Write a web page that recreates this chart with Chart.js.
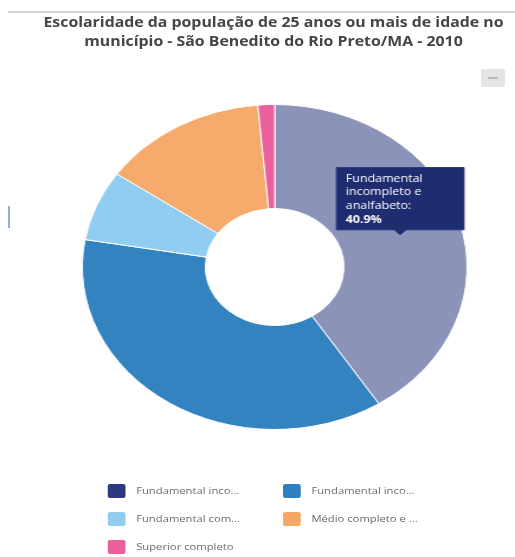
<!DOCTYPE html>
<html>
<head>
<meta charset="utf-8">
<script src="https://cdn.jsdelivr.net/npm/chart.js@4/dist/chart.umd.min.js"></script>
<style>
  html, body { margin: 0; padding: 0; background: #fff; }
  body { width: 515px; height: 557px; position: relative; overflow: hidden; font-family: "Open Sans", sans-serif; }
  .topline { position: absolute; left: 8px; right: 0; top: 11px; height: 2px; background: #d6d6d6; }
  .menu { position: absolute; left: 481px; top: 69px; width: 24px; height: 18px; background: #e4e4e4; border-radius: 2px; }
  .menu::after { content: ""; position: absolute; left: 7px; right: 7px; top: 8px; height: 2px; background: #b8b8b8; }
  .sidemark { position: absolute; left: 8px; top: 206px; width: 2px; height: 22px; background: #8fb0dc; }
  /* everything is laid out at 435px and stretched to the page width */
  .stage { position: absolute; left: 0; top: 0; width: 435px; height: 557px; transform: scaleX(1.184); transform-origin: 0 0; }
  .title { position: absolute; left: 27px; right: 0; top: 13px; text-align: center; font-weight: 700; font-size: 13.4px; line-height: 19px; color: #454545; }
  #chart { position: absolute; left: 0; top: 60px; }
  .legend { position: absolute; left: 91px; top: 483px; width: 320px; }
  .legend .item { position: absolute; display: flex; align-items: center; font-size: 9.5px; line-height: 15px; color: #6b6b6b; white-space: nowrap; }
  .legend .box { width: 15px; height: 14px; border-radius: 2px; margin-right: 9px; }
</style>
</head>
<body>
<div class="topline"></div>
<div class="menu"></div>
<div class="sidemark"></div>
<div class="stage">
  <div class="title">Escolaridade da população de 25 anos ou mais de idade no<br>município - São Benedito do Rio Preto/MA - 2010</div>
  <canvas id="chart" width="435" height="410"></canvas>
  <div class="legend" id="legend"></div>
</div>
<script>
const labels = [
  'Fundamental incompleto e analfabeto',
  'Fundamental incompleto e alfabetizado',
  'Fundamental completo e médio incompleto',
  'Médio completo e superior incompleto',
  'Superior completo'
];
const percents = [40.9, 36.8, 7.0, 13.9, 1.4];
const sliceColors = ['#8b93b8', '#3483c1', '#91cdf1', '#f6aa6b', '#eb5f9c'];
const legendColors = ['#2c3a7d', '#2f7fbf', '#91cdf1', '#f5a765', '#eb5f9c'];

// break a label into short lines for the tooltip
function wrapText(text, maxChars) {
  const words = text.split(' ');
  const lines = [];
  let line = '';
  words.forEach(w => {
    if (line && (line + ' ' + w).length > maxChars) {
      lines.push(line);
      line = w;
    } else {
      line = line ? line + ' ' + w : w;
    }
  });
  if (line) lines.push(line);
  return lines;
}

const ctx = document.getElementById('chart').getContext('2d');
const chart = new Chart(ctx, {
  type: 'doughnut',
  data: {
    labels: labels,
    datasets: [{
      data: percents,
      backgroundColor: sliceColors,
      borderColor: '#ffffff',
      borderWidth: 1,
      hoverOffset: 0
    }]
  },
  options: {
    responsive: false,
    animation: false,
    events: [],
    cutout: '36%',
    layout: { padding: { left: 69, right: 40, top: 44, bottom: 40 } },
    plugins: {
      legend: { display: false },
      title: { display: false },
      tooltip: {
        enabled: true,
        xAlign: 'center',
        yAlign: 'bottom',
        backgroundColor: '#1f2c70',
        borderColor: '#2b3a86',
        borderWidth: 1,
        cornerRadius: 0,
        caretSize: 5,
        caretPadding: 1,
        displayColors: false,
        padding: { top: 5, bottom: 4, left: 8, right: 35 },
        bodyFont: { family: 'Open Sans', size: 10.5, lineHeight: 1.15 },
        bodySpacing: 1.5,
        footerFont: { family: 'Open Sans', size: 10.5, weight: 'bold', lineHeight: 1.15 },
        footerMarginTop: 2,
        bodyColor: '#ffffff',
        footerColor: '#ffffff',
        callbacks: {
          title: () => '',
          label: function(context) {
            const lines = wrapText(context.label, 12);
            lines[lines.length - 1] += ':';
            return lines;
          },
          footer: function(items) {
            return items[0].parsed.toFixed(1) + '%';
          }
        }
      }
    }
  }
});

// keep the first slice's tooltip open
chart.tooltip.setActiveElements([{ datasetIndex: 0, index: 0 }], { x: 0, y: 0 });
chart.update();

// legend, two columns, long names cut with an ellipsis
const legendEl = document.getElementById('legend');
const measure = document.createElement('canvas').getContext('2d');
measure.font = '9.5px "Open Sans"';
function fitText(text, maxWidth) {
  if (measure.measureText(text).width <= maxWidth) return text;
  let t = text;
  while (t.length > 1 && measure.measureText(t + '...').width > maxWidth) t = t.slice(0, -1);
  return t + '...';
}
labels.forEach((label, i) => {
  const item = document.createElement('div');
  item.className = 'item';
  item.style.left = (i % 2 === 0 ? 0 : 148) + 'px';
  item.style.top = (Math.floor(i / 2) * 28) + 'px';
  const box = document.createElement('span');
  box.className = 'box';
  box.style.background = legendColors[i];
  const text = document.createElement('span');
  text.textContent = fitText(label, 90);
  item.appendChild(box);
  item.appendChild(text);
  legendEl.appendChild(item);
});
</script>
</body>
</html>
